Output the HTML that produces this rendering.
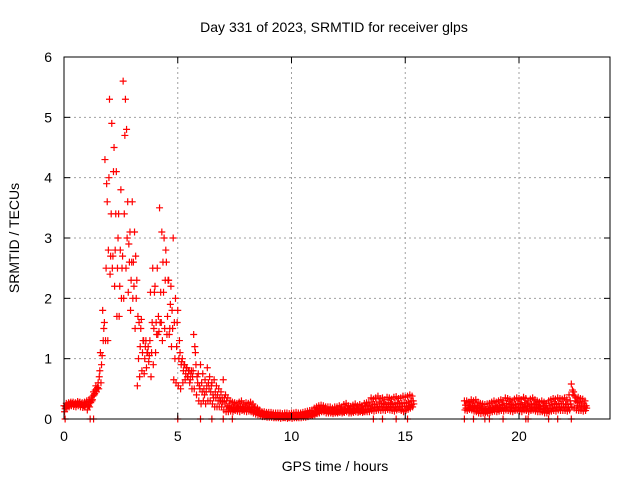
<!DOCTYPE html>
<html><head><meta charset="utf-8"><style>
body{margin:0;background:#fff;}
svg{display:block;font-family:"Liberation Sans",sans-serif;}
</style></head><body>
<svg id="chart" width="640" height="480">
<rect x="0" y="0" width="640" height="480" fill="#fff"/>
<g id="grid"></g>
<g id="marks"></g>
<g id="axes"></g>
<text x="334" y="32" text-anchor="middle" font-size="14">Day 331 of 2023, SRMTID for receiver glps</text>
<text x="335" y="471" text-anchor="middle" font-size="14">GPS time / hours</text>
<text transform="translate(19,238) rotate(-90)" text-anchor="middle" font-size="14">SRMTID / TECUs</text>
</svg>
<script>
const xTicks=[0,5,10,15,20];
const yTicks=[0,1,2,3,4,5,6];
const times=[0.0,0.1,0.2,0.3,0.4,0.5,0.6,0.7,0.8,0.9,1.0,1.1,1.2,1.3,1.4,1.5,1.6,1.7,1.8,1.9,2.0,2.1,2.2,2.3,2.4,2.5,2.6,2.7,2.8,2.9,3.0,3.1,3.2,3.3,3.4,3.5,3.6,3.7,3.8,3.9,4.0,4.1,4.2,4.3,4.4,4.5,4.6,4.7,4.8,4.9,5.0,5.1,5.2,5.3,5.4,5.5,5.6,5.7,5.8,5.9,6.0,6.1,6.2,6.3,6.4,6.5,6.6,6.7,6.8,6.9,7.0,7.1,7.2,7.3,7.4,7.5,7.6,7.7,7.8,7.9,8.0,8.1,8.2,8.3,8.4,8.5,8.6,8.7,8.8,8.9,9.0,9.1,9.2,9.3,9.4,9.5,9.6,9.7,9.8,9.9,10.0,10.1,10.2,10.3,10.4,10.5,10.6,10.7,10.8,10.9,11.0,11.1,11.2,11.3,11.4,11.5,11.6,11.7,11.8,11.9,12.0,12.1,12.2,12.3,12.4,12.5,12.6,12.7,12.8,12.9,13.0,13.1,13.2,13.3,13.4,13.5,13.6,13.7,13.8,13.9,14.0,14.1,14.2,14.3,14.4,14.5,14.6,14.7,14.8,14.9,15.0,15.1,15.2,15.3,
17.6,17.7,17.8,17.9,18.0,18.1,18.2,18.3,18.4,18.5,18.6,18.7,18.8,18.9,19.0,19.1,19.2,19.3,19.4,19.5,19.6,19.7,19.8,19.9,20.0,20.1,20.2,20.3,20.4,20.5,20.6,20.7,20.8,20.9,21.0,21.1,21.2,21.3,21.4,21.5,21.6,21.7,21.8,21.9,22.0,22.1,22.2,22.3,22.4,22.5,22.6,22.7,22.8,22.9];
const seriesA=[.22,.26,.27,.28,.28,.27,.29,.28,.27,.28,
.3,.32,.35,.45,.55,.6,1.1,1.8,4.3,3.6,
5.3,4.9,4.5,4.1,3.4,3.8,5.6,5.3,3.6,3.1,
3.6,3.1,2.3,1.6,1.65,1.3,1.3,1.2,2.1,2.5,
2.2,2.5,3.5,3.1,3.0,2.6,2.3,2.2,3.0,2.0,
1.8,1.1,1.0,0.9,0.85,0.8,0.8,1.4,0.9,0.75,
0.9,0.75,0.65,0.85,0.7,0.6,0.65,0.55,0.5,0.45,
0.65,0.4,0.35,0.3,0.28,0.27,0.26,0.28,0.3,0.25,
.27,.26,.28,.25,.2,.18,.15,.12,.12,.11,
.11,.11,.1,.1,.1,.1,.09,.1,.1,.09,
.1,.1,.11,.1,.1,.11,.12,.13,.14,.15,
.18,.2,.22,.23,.22,.2,.2,.2,.18,.2,
.2,.22,.2,.24,.26,.22,.21,.23,.25,.22,
.24,.22,.26,.27,.28,.35,.33,.35,.38,.34,
.35,.32,.36,.35,.33,.36,.37,.34,.35,.38,
.36,.38,.4,.38,
.3,.3,.28,.32,
.3,.32,.28,.26,.25,.24,.25,.26,.28,.3,
.28,.3,.32,.3,.35,.34,.32,.3,.33,.35,
.34,.32,.36,.34,.3,.33,.35,.32,.3,.28,
.3,.28,.26,.3,.32,.34,.33,.35,.34,.33,
.35,.32,.4,.58,.45,.35,.36,.34,.33,.3];
const seriesB=[.12,.18,.2,.22,.21,.2,.22,.2,.19,.2,
.15,.2,.3,.4,.45,.5,.6,1.3,1.3,1.3,
2.4,2.5,2.2,1.7,1.7,2.0,2.0,2.5,2.1,1.8,
2.0,1.5,0.55,0.7,0.8,0.75,0.85,0.95,0.7,0.9,
1.1,1.4,1.6,1.3,1.5,1.4,1.4,1.2,0.65,0.6,
0.55,0.5,0.6,0.65,0.7,0.6,0.5,0.5,0.4,0.3,
0.25,0.3,0.25,0.3,0.3,0.25,0.2,0.2,0.2,0.2,
0.15,0.12,0.12,0.13,0.12,0.14,0.13,0.12,0.14,0.13,
.12,.13,.12,.1,.08,.07,.06,.04,.04,.03,
.03,.03,.02,.02,.02,.01,.02,.02,.01,.02,
.01,.02,.02,.02,.02,.03,.03,.04,.05,.05,
.07,.09,.1,.12,.12,.1,.1,.1,.09,.1,
.1,.11,.1,.11,.12,.1,.1,.11,.12,.11,
.12,.11,.12,.12,.12,.14,.13,.14,.15,.14,
.15,.14,.16,.15,.14,.13,.15,.16,.14,.12,
.14,.16,.18,.2,
.15,.14,.16,.15,
.13,.12,.1,.09,.1,.11,.1,.11,.12,.13,
.12,.13,.14,.13,.15,.14,.13,.12,.14,.15,
.13,.12,.15,.14,.12,.14,.15,.13,.12,.12,
.12,.1,.1,.12,.13,.14,.13,.15,.14,.14,
.14,.13,.15,.2,.18,.15,.14,.14,.13,.14];
const seriesC=[.17,.22,.24,.25,.24,.24,.25,.24,.23,.24,
.25,.28,.32,.42,.5,.7,.9,1.5,2.5,2.8,
2.7,2.7,2.8,2.5,2.2,2.5,3.4,4.8,2.9,2.3,
2.6,2.7,1.7,1.2,1.1,1.0,1.1,1.05,1.1,1.5,
1.6,1.7,2.1,2.6,2.3,1.7,1.5,1.8,1.6,1.2,
1.0,0.9,0.8,0.75,0.7,0.65,0.7,1.2,0.7,0.55,
0.6,0.5,0.45,0.6,0.45,0.4,0.45,0.4,0.35,0.35,
0.35,0.3,0.22,0.2,0.2,0.2,0.19,0.21,0.2,0.2,
.2,.19,.2,.18,.13,.12,.1,.09,.08,.08,
.07,.07,.06,.06,.06,.05,.05,.06,.05,.06,
.06,.06,.06,.06,.07,.07,.08,.09,.1,.1,
.12,.15,.17,.18,.17,.15,.15,.15,.14,.15,
.15,.16,.15,.17,.18,.16,.15,.17,.18,.16,
.18,.16,.2,.2,.22,.25,.24,.25,.28,.25,
.26,.24,.27,.26,.24,.26,.27,.25,.26,.27,
.26,.28,.3,.3,
.23,.22,.22,.25,
.22,.22,.2,.18,.17,.16,.17,.18,.2,.22,
.2,.22,.24,.22,.26,.25,.24,.22,.24,.26,
.25,.23,.27,.25,.22,.24,.26,.24,.22,.2,
.22,.2,.18,.22,.24,.26,.24,.26,.25,.25,
.25,.24,.3,.48,.38,.28,.27,.25,.25,.22];
const seriesD=[.2,.24,.26,.26,.25,.26,.27,.25,.22,.25,
.22,.27,.38,.48,.52,.8,1.05,1.6,3.9,4.0,
3.4,4.1,3.4,3.0,2.8,2.7,4.7,3.0,2.6,2.6,
2.2,2.0,1.0,1.5,1.3,1.2,1.1,1.3,1.6,2.1,
1.4,1.45,1.6,2.1,2.8,2.3,1.9,1.5,1.0,1.6,
1.3,0.95,0.9,0.85,0.8,0.75,0.8,1.1,0.6,0.5,
0.45,0.4,0.55,0.5,0.55,0.35,0.35,0.3,0.3,0.28,
0.25,0.2,0.18,0.17,0.16,0.17,0.17,0.18,0.16,0.17,
.17,.16,.15,.14,.11,.1,.08,.07,.06,.06,
.05,.05,.04,.04,.04,.04,.03,.04,.03,.04,
.04,.04,.04,.05,.05,.05,.06,.07,.07,.08,
.1,.12,.14,.15,.14,.13,.13,.12,.12,.12,
.12,.13,.12,.14,.15,.13,.13,.14,.15,.13,
.14,.13,.15,.16,.17,.2,.19,.2,.21,.2,
.2,.19,.21,.2,.19,.2,.21,.2,.2,.21,
.2,.22,.24,.25,
.18,.18,.19,.2,
.18,.17,.15,.14,.13,.13,.14,.15,.16,.18,
.16,.18,.19,.18,.2,.2,.19,.18,.19,.2,
.2,.18,.21,.2,.17,.19,.2,.18,.17,.16,
.17,.15,.14,.17,.18,.2,.19,.2,.2,.19,
.2,.19,.25,.4,.3,.22,.2,.2,.2,.18];
const zeroTimes=[0.05,1.15,1.3,5.0,6.0,6.5,7.0,7.4,13.6,14.0,14.6,15.1,17.6,18.0,18.5,18.7,19.3,20.3,20.4,21.3,21.7,22.3];

const L=64,R=610,T=57,B=419,XMAX=24,YMAX=6;
const xs=v=>L+(v/XMAX)*(R-L);
const ys=v=>B-(v/YMAX)*(B-T);
const NS='http://www.w3.org/2000/svg';
const grid=document.getElementById('grid'),axes=document.getElementById('axes'),marks=document.getElementById('marks');
function mk(tag,attrs,parent){const e=document.createElementNS(NS,tag);for(const k in attrs)e.setAttribute(k,attrs[k]);parent.appendChild(e);return e;}

xTicks.forEach(t=>{
  const x=xs(t);
  if(t>0){const g=mk('line',{x1:x,y1:T,x2:x,y2:B,stroke:'#a0a0a0','stroke-dasharray':'2,3'},grid);
  
  }
  mk('line',{x1:x,y1:B,x2:x,y2:B-6,stroke:'#000'},axes);
  mk('line',{x1:x,y1:T,x2:x,y2:T+6,stroke:'#000'},axes);
  const tx=mk('text',{x:x,y:B+22,'text-anchor':'middle','font-size':14},axes);
  tx.textContent=t;
  
  
});
yTicks.forEach(t=>{
  const y=ys(t);
  if(t>0&&t<YMAX){const g=mk('line',{x1:L,y1:y,x2:R,y2:y,stroke:'#a0a0a0','stroke-dasharray':'2,3'},grid);
  
  }
  mk('line',{x1:L,y1:y,x2:L+6,y2:y,stroke:'#000'},axes);
  mk('line',{x1:R,y1:y,x2:R-6,y2:y,stroke:'#000'},axes);
  const tx=mk('text',{x:L-12,y:y+5,'text-anchor':'end','font-size':14},axes);
  tx.textContent=t;
  
  
});
const frame=mk('rect',{x:L,y:T,width:R-L,height:B-T,fill:'none',stroke:'#000'},axes);



function plus(t,v){
  const x=xs(t),y=ys(v);
  const p=mk('path',{d:`M${x-3.5},${y}h7M${x},${y-3.5}v7`,stroke:'#f00','stroke-width':1.2,fill:'none'},marks);
  
  
}
const offs=[0,0.025,0.05,0.075];
[seriesA,seriesB,seriesC,seriesD].forEach((s,si)=>{
  s.forEach((v,i)=>plus(times[i]+offs[si],v));
});
zeroTimes.forEach(t=>plus(t,0));
</script>
</body></html>
